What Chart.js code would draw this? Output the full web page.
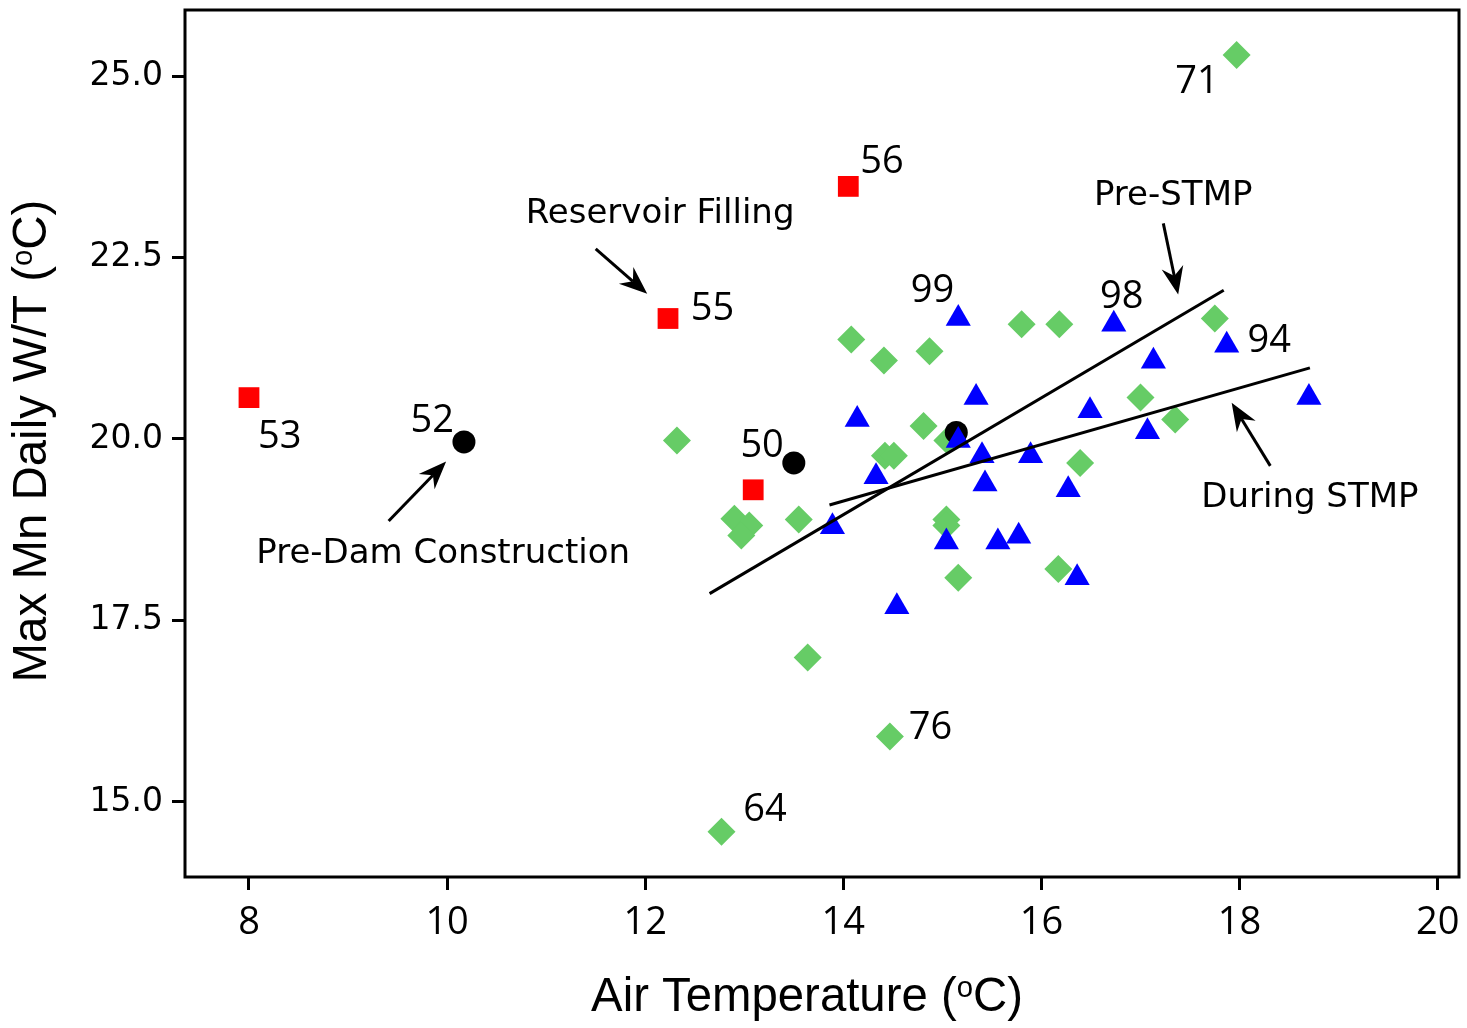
<!DOCTYPE html>
<html><head><meta charset="utf-8">
<script src="https://cdn.jsdelivr.net/npm/chart.js@4/dist/chart.umd.min.js"></script>
<style>html,body{margin:0;padding:0;background:#fff;overflow:hidden}#wrap{width:1467px;height:1028px;position:relative}</style>
</head><body><div id="wrap"><canvas id="c" width="1467" height="1028"></canvas></div>
<script>
// ---- tick labels ----
const xTicks = [8, 10, 12, 14, 16, 18, 20];
const yTicks = [15.0, 17.5, 20.0, 22.5, 25.0];

// ---- series: Pre-Dam Construction (black circles) ----
const preDamX = [10.17, 13.50, 15.14];
const preDamY = [19.96, 19.67, 20.09];

// ---- series: Reservoir Filling (red squares) ----
const reservoirX = [8.00, 12.23, 14.05, 13.09];
const reservoirY = [20.57, 21.66, 23.48, 19.30];

// ---- series: Pre-STMP (green diamonds) ----
const preStmpX = [14.08, 14.41, 14.87, 15.80, 16.18, 14.81, 15.05, 14.42, 14.51, 16.39, 13.55, 12.90, 13.05,
                  12.97, 15.04, 15.04, 15.16, 16.17, 17.75, 17.00, 17.35, 17.97, 12.32, 13.64, 14.47, 12.77];
const preStmpY = [21.37, 21.08, 21.21, 21.58, 21.58, 20.18, 19.98, 19.77, 19.77, 19.67, 18.89, 18.90, 18.81,
                  18.67, 18.89, 18.81, 18.09, 18.21, 21.66, 20.57, 20.27, 25.29, 19.98, 16.99, 15.90, 14.59];

// ---- series: During STMP (blue triangles) ----
const duringX = [15.16, 15.34, 16.49, 14.14, 15.16, 15.40, 15.89, 14.33, 15.43, 16.27, 13.89, 15.04, 15.56,
                 15.77, 16.36, 14.54, 16.73, 17.87, 17.13, 18.70, 17.07];
const duringY = [21.66, 20.57, 20.39, 20.27, 19.98, 19.77, 19.77, 19.48, 19.38, 19.30, 18.79, 18.58, 18.58,
                 18.66, 18.09, 17.69, 21.58, 21.29, 21.07, 20.57, 20.10];

// ---- regression lines ----
const preFitX = [12.65, 17.84];
const preFitY = [17.87, 22.05];
const duringFitX = [13.86, 18.71];
const duringFitY = [19.09, 20.98];

// ---- year labels (text, centre in data units) ----
const yearText = ['71', '56', '55', '53', '52', '50', '99', '98', '94', '76', '64'];
const yearX = [17.57, 14.39, 12.68, 8.31, 9.85, 13.18, 14.90, 16.81, 18.30, 14.88, 13.21];
const yearY = [24.96, 23.85, 21.83, 20.06, 20.28, 19.94, 22.07, 21.99, 21.38, 16.06, 14.93];

// ---- period notes ----
const noteText = ['Reservoir Filling', 'Pre-STMP', 'Pre-Dam Construction', 'During STMP'];
const noteX = [12.15, 17.33, 9.96, 18.71];
const noteY = [23.15, 23.39, 18.46, 19.23];

// ---- arrows (from -> to, data units) ----
const arrowX0 = [11.50, 17.23, 9.41, 18.31];
const arrowY0 = [22.62, 22.97, 18.87, 19.63];
const arrowX1 = [12.02, 17.38, 9.99, 17.92];
const arrowY1 = [22.00, 21.99, 19.69, 20.50];

// ---- axis titles ----
const xTitle = ['Air Temperature (', 'o', 'C)'];
const yTitle = ['Max Mn Daily W/T (', 'o', 'C)'];

const pts = (xs, ys) => xs.map((x, i) => ({x: x, y: ys[i]}));

function drawRich(ctx, parts, cx, cy, angle, baseSize, targetW) {
  const fam = '"Liberation Sans", Arial, sans-serif';
  const measure = (size) => parts.map((t, i) => {
    ctx.font = (i === 1 ? size * 0.62 : size) + 'px ' + fam;
    return ctx.measureText(t).width;
  });
  let widths = measure(baseSize);
  let W = widths.reduce((a, b) => a + b, 0);
  const size = baseSize * targetW / W;
  widths = measure(size);
  W = widths.reduce((a, b) => a + b, 0);
  ctx.save();
  ctx.translate(cx, cy);
  ctx.rotate(angle);
  ctx.fillStyle = '#000';
  ctx.textAlign = 'left';
  ctx.textBaseline = 'alphabetic';
  let x = -W / 2;
  parts.forEach((t, i) => {
    ctx.font = (i === 1 ? size * 0.62 : size) + 'px ' + fam;
    ctx.fillText(t, x, i === 1 ? -size * 0.3 : 0);
    x += widths[i];
  });
  ctx.restore();
}

function drawArrow(ctx, x0, y0, x1, y1) {
  const ang = Math.atan2(y1 - y0, x1 - x0);
  const L = 28, H = 11, notch = 19;
  const ux = Math.cos(ang), uy = Math.sin(ang);
  const bx = x1 - ux * L, by = y1 - uy * L;
  const nx = x1 - ux * notch, ny = y1 - uy * notch;
  ctx.save();
  ctx.strokeStyle = '#000';
  ctx.fillStyle = '#000';
  ctx.lineWidth = 3;
  ctx.beginPath();
  ctx.moveTo(x0, y0);
  ctx.lineTo(nx, ny);
  ctx.stroke();
  ctx.beginPath();
  ctx.moveTo(x1, y1);
  ctx.lineTo(bx - uy * H, by + ux * H);
  ctx.lineTo(nx, ny);
  ctx.lineTo(bx + uy * H, by - ux * H);
  ctx.closePath();
  ctx.fill();
  ctx.restore();
}

const decorPlugin = {
  id: 'decor',
  afterDraw(chart) {
    const ctx = chart.ctx;
    const a = chart.chartArea;
    const xs = chart.scales.x, ys = chart.scales.y;
    ctx.save();
    ctx.strokeStyle = '#000';
    ctx.lineWidth = 3;
    ctx.strokeRect(a.left, a.top, a.right - a.left, a.bottom - a.top);
    ctx.restore();
    ctx.save();
    ctx.fillStyle = '#000';
    ctx.textAlign = 'center';
    ctx.textBaseline = 'alphabetic';
    const ys1 = 38;
    ctx.font = ys1 + 'px "Open Sans", sans-serif';
    yearText.forEach((t, i) => {
      ctx.fillText(t, xs.getPixelForValue(yearX[i]), ys.getPixelForValue(yearY[i]) + ys1 * 0.357);
    });
    const ns = 34;
    ctx.font = ns + 'px "DejaVu Sans", sans-serif';
    noteText.forEach((t, i) => {
      ctx.fillText(t, xs.getPixelForValue(noteX[i]), ys.getPixelForValue(noteY[i]) + ns * 0.36);
    });
    ctx.restore();
    arrowX0.forEach((v, i) => {
      drawArrow(ctx, xs.getPixelForValue(arrowX0[i]), ys.getPixelForValue(arrowY0[i]),
                xs.getPixelForValue(arrowX1[i]), ys.getPixelForValue(arrowY1[i]));
    });
    drawRich(ctx, xTitle, 807, 1011, 0, 40, 432);
    drawRich(ctx, yTitle, 46, 441, -Math.PI / 2, 40, 483);
  }
};

new Chart(document.getElementById('c').getContext('2d'), {
  type: 'scatter',
  data: {
    datasets: [
      {label: 'Pre-STMP fit', data: pts(preFitX, preFitY), showLine: true, borderColor: '#000', borderWidth: 3,
       pointRadius: 0, fill: false, order: 0},
      {label: 'During STMP fit', data: pts(duringFitX, duringFitY), showLine: true, borderColor: '#000', borderWidth: 3,
       pointRadius: 0, fill: false, order: 0},
      {label: 'During STMP', data: pts(duringX, duringY), pointStyle: 'triangle', pointRadius: 14.5,
       backgroundColor: '#0000FF', borderColor: '#0000FF', borderWidth: 0, order: 1},
      {label: 'Pre-Dam Construction', data: pts(preDamX, preDamY), pointStyle: 'circle', pointRadius: 11.5,
       backgroundColor: '#000000', borderColor: '#000000', borderWidth: 0, order: 2},
      {label: 'Reservoir Filling', data: pts(reservoirX, reservoirY), pointStyle: 'rect', pointRadius: 14.7,
       backgroundColor: '#FF0000', borderColor: '#FF0000', borderWidth: 0, order: 3},
      {label: 'Pre-STMP', data: pts(preStmpX, preStmpY), pointStyle: 'rectRot', pointRadius: 14,
       backgroundColor: '#66CC66', borderColor: '#66CC66', borderWidth: 0, order: 4}
    ]
  },
  options: {
    responsive: false,
    animation: false,
    devicePixelRatio: 1,
    layout: {autoPadding: false, padding: {top: 10, right: 8, left: 0, bottom: 0}},
    plugins: {legend: {display: false}, tooltip: {enabled: false}},
    elements: {point: {hoverRadius: 0}},
    scales: {
      x: {
        type: 'linear', min: 7.354, max: 20.215,
        afterBuildTicks: s => { s.ticks = xTicks.map(v => ({value: v})); },
        afterFit: s => { s.height = 151; s.paddingLeft = 0; s.paddingRight = 0; },
        border: {display: false},
        grid: {display: true, drawOnChartArea: false, drawTicks: true, tickLength: 13, lineWidth: 3, tickWidth: 3,
               color: '#000', tickColor: '#000'},
        ticks: {font: {family: 'Open Sans', size: 38}, color: '#000', padding: 10, maxRotation: 0, autoSkip: false,
                callback: v => String(v)},
        title: {display: false}
      },
      y: {
        type: 'linear', min: 13.966, max: 25.91,
        afterBuildTicks: s => { s.ticks = yTicks.map(v => ({value: v})); },
        afterFit: s => { s.width = 185; s.paddingTop = 0; s.paddingBottom = 0; },
        border: {display: false},
        grid: {display: true, drawOnChartArea: false, drawTicks: true, tickLength: 13, lineWidth: 3, tickWidth: 3,
               color: '#000', tickColor: '#000'},
        ticks: {font: {family: 'DejaVu Sans', size: 33}, color: '#000', padding: 9, autoSkip: false,
                callback: v => Number(v).toFixed(1)},
        title: {display: false}
      }
    }
  },
  plugins: [decorPlugin]
});
</script></body></html>
